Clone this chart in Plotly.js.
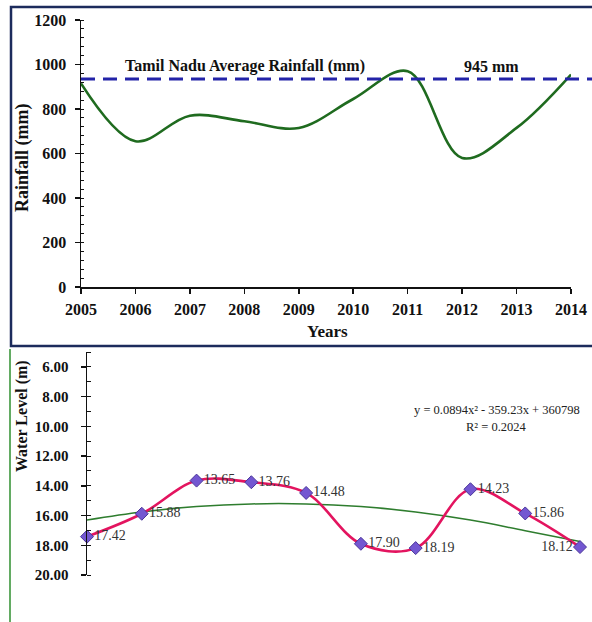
<!DOCTYPE html>
<html>
<head>
<meta charset="utf-8">
<script src="https://cdn.plot.ly/plotly-3.0.1.min.js"></script>
<style>
  html, body { margin: 0; padding: 0; background: #ffffff; }
  #chart { width: 592px; height: 622px; }
</style>
</head>
<body>
<div id="chart"></div>
<script>
// ---- Data ----
var years = [2005, 2006, 2007, 2008, 2009, 2010, 2011, 2012, 2013, 2014];
var rainfall = [915, 655, 770, 745, 715, 845, 970, 580, 715, 955];
var avgRainfall = 935;
var avgLabel = "Tamil Nadu Average Rainfall (mm)";
var avgValueLabel = "945 mm";

var waterLevel = [17.42, 15.88, 13.65, 13.76, 14.48, 17.90, 18.19, 14.23, 15.86, 18.12];
var trendLevel = [16.30, 15.76, 15.40, 15.22, 15.22, 15.40, 15.76, 16.30, 17.02, 17.75];
var trendEquation = "y = 0.0894x² - 359.23x + 360798";
var trendR2 = "R² = 0.2024";

var rainTicks = [0, 200, 400, 600, 800, 1000, 1200];
var levelTicks = [6, 8, 10, 12, 14, 16, 18, 20];

// ---- Layout helpers (pixels -> paper) ----
var W = 592, H = 622;
function px(x) { return x / W; }
function py(y) { return 1 - y / H; }

var serif = "Liberation Serif, Times New Roman, serif";

var traces = [
  {
    x: years, y: rainfall, xaxis: 'x', yaxis: 'y',
    mode: 'lines', type: 'scatter',
    line: { color: '#1f6b1f', width: 2.6, shape: 'spline', smoothing: 1 },
    hoverinfo: 'skip', showlegend: false
  },
  {
    x: years, y: trendLevel, xaxis: 'x2', yaxis: 'y2',
    mode: 'lines', type: 'scatter',
    line: { color: '#2e7d2e', width: 1.5, shape: 'spline', smoothing: 1 },
    hoverinfo: 'skip', showlegend: false
  },
  {
    x: years, y: waterLevel, xaxis: 'x2', yaxis: 'y2',
    mode: 'lines+markers+text', type: 'scatter',
    line: { color: '#e3145f', width: 2.6, shape: 'spline', smoothing: 1 },
    marker: { symbol: 'diamond', size: 10, color: '#7357d1', line: { color: '#4a3699', width: 1 } },
    text: waterLevel.map(function (v) { return v.toFixed(2); }),
    textposition: years.map(function (y, i) { return i === years.length - 1 ? 'middle left' : 'middle right'; }),
    textfont: { family: serif, size: 14, color: '#333333' },
    cliponaxis: false,
    hoverinfo: 'skip', showlegend: false
  }
];

var layout = {
  width: W, height: H,
  margin: { l: 0, r: 0, t: 0, b: 0 },
  paper_bgcolor: '#ffffff', plot_bgcolor: 'rgba(0,0,0,0)',
  font: { family: serif, color: '#111111' },
  showlegend: false,
  xaxis: {
    domain: [px(81), px(571)], anchor: 'y',
    range: [2005, 2014], tickvals: years, ticktext: years.map(String),
    showline: true, linecolor: '#111', linewidth: 1.5,
    ticks: 'outside', ticklen: 5, tickcolor: '#111', tickwidth: 1.5,
    tickfont: { family: serif, size: 16, weight: 'bold', color: '#111' },
    ticklabelstandoff: 2,
    showgrid: false, zeroline: false, fixedrange: true
  },
  yaxis: {
    domain: [py(287), py(20)], anchor: 'x',
    range: [0, 1200], tickvals: rainTicks, ticktext: rainTicks.map(String),
    showline: true, linecolor: '#111', linewidth: 1.5,
    ticks: 'outside', ticklen: 5, tickcolor: '#111', tickwidth: 1.5,
    minor: { ticks: 'inside', dtick: 40, ticklen: 3, tickcolor: '#111', tickwidth: 1 },
    tickfont: { family: serif, size: 16, weight: 'bold', color: '#111' },
    ticklabelstandoff: 5,
    showgrid: false, zeroline: false, fixedrange: true
  },
  xaxis2: {
    domain: [px(87), px(580)], anchor: 'y2',
    range: [2005, 2014], visible: false, fixedrange: true
  },
  yaxis2: {
    domain: [py(575), py(352)], anchor: 'x2',
    range: [20, 5], tickvals: levelTicks, ticktext: levelTicks.map(function (v) { return v.toFixed(2); }),
    showline: true, linecolor: '#111', linewidth: 1.5,
    ticks: 'outside', ticklen: 5, tickcolor: '#111', tickwidth: 1.5,
    minor: { ticks: 'inside', dtick: 1, ticklen: 4, tickcolor: '#111', tickwidth: 1 },
    tickfont: { family: serif, size: 15, weight: 'bold', color: '#111' },
    ticklabelstandoff: 9,
    showgrid: false, zeroline: false, fixedrange: true
  },
  shapes: [
    { type: 'rect', xref: 'paper', yref: 'paper', x0: px(11), x1: 1.02, y0: py(346), y1: py(7),
      line: { color: '#1c2b5c', width: 2.5 }, fillcolor: 'rgba(0,0,0,0)', layer: 'below' },
    { type: 'line', xref: 'paper', yref: 'paper', x0: px(10), x1: px(10), y0: 0, y1: py(349),
      line: { color: '#2f8f2f', width: 1.5 } },
    { type: 'line', xref: 'paper', yref: 'y', x0: px(81), x1: 1.02, y0: avgRainfall, y1: avgRainfall,
      line: { color: '#2323a8', width: 3, dash: '14px,8px' } }
  ],
  annotations: [
    { xref: 'paper', yref: 'paper', x: px(245), y: py(66), text: avgLabel, showarrow: false,
      font: { family: serif, size: 16, weight: 'bold', color: '#111' }, xanchor: 'center', yanchor: 'middle' },
    { xref: 'paper', yref: 'paper', x: px(492), y: py(66), text: avgValueLabel, showarrow: false,
      font: { family: serif, size: 16, weight: 'bold', color: '#111' }, xanchor: 'center', yanchor: 'middle' },
    { xref: 'paper', yref: 'paper', x: px(22), y: py(158), text: 'Rainfall (mm)', showarrow: false, textangle: -90,
      font: { family: serif, size: 18, weight: 'bold', color: '#111' }, xanchor: 'center', yanchor: 'middle' },
    { xref: 'paper', yref: 'paper', x: px(327), y: py(331), text: 'Years', showarrow: false,
      font: { family: serif, size: 17, weight: 'bold', color: '#111' }, xanchor: 'center', yanchor: 'middle' },
    { xref: 'paper', yref: 'paper', x: px(22), y: py(416), text: 'Water Level (m)', showarrow: false, textangle: -90,
      font: { family: serif, size: 16, weight: 'bold', color: '#111' }, xanchor: 'center', yanchor: 'middle' },
    { xref: 'paper', yref: 'paper', x: px(497), y: py(410), text: trendEquation, showarrow: false,
      font: { family: serif, size: 12.5, color: '#222' }, xanchor: 'center', yanchor: 'middle' },
    { xref: 'paper', yref: 'paper', x: px(497), y: py(427), text: trendR2, showarrow: false,
      font: { family: serif, size: 12.5, color: '#222' }, xanchor: 'center', yanchor: 'middle' }
  ]
};

Plotly.newPlot('chart', traces, layout, { displayModeBar: false, staticPlot: true });
</script>
</body>
</html>
